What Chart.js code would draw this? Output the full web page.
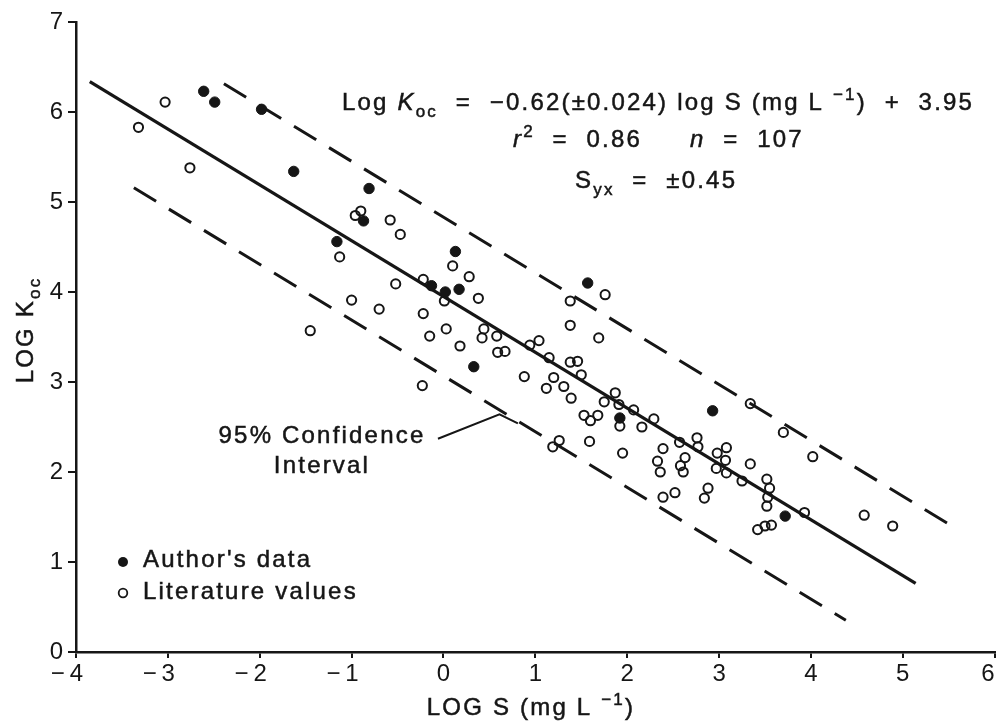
<!DOCTYPE html>
<html>
<head>
<meta charset="utf-8">
<title>LOG Koc vs LOG S</title>
<script src="https://cdn.jsdelivr.net/npm/chart.js@4.4.1/dist/chart.umd.min.js"></script>
<style>
  html, body { margin: 0; padding: 0; background: #fff; overflow: hidden; }
  #wrap { width: 1010px; height: 725px; }
</style>
</head>
<body>
<div id="wrap"><canvas id="koc" width="1010" height="725"></canvas></div>
<script>
'use strict';

// author's own measurements: log S (mg/L) against log Koc
const authorLogS = [-2.61, -2.49, -1.98, -1.63, -1.16, -0.81, -0.87, 0.13, -0.13, 0.02,
  0.17, 0.33, 1.57, 1.92, 2.93, 3.72];
const authorLogKoc = [6.23, 6.11, 6.03, 5.34, 4.56, 5.15, 4.79, 4.45, 4.07, 4.00,
  4.03, 3.17, 4.10, 2.60, 2.68, 1.51];

// values taken from the literature
const litLogS = [-3.32, -3.03, -2.76, -1.45, -1.13, -1.00, -0.96, -0.90, -0.58, -0.47,
  -0.70, -0.52, -0.22, -0.22, -0.23, -0.15, 0.01, 0.03, 0.10, 0.18,
  0.28, 0.38, 0.44, 0.42, 0.58, 0.59, 0.67, 0.88, 0.94, 1.04,
  1.12, 1.15, 1.20, 1.19, 1.26, 1.31, 1.38, 1.38, 1.38, 1.39,
  1.46, 1.50, 1.53, 1.59, 1.60, 1.68, 1.69, 1.76, 1.75, 1.87,
  1.92, 1.95, 2.07, 2.16, 2.29, 2.33, 2.36, 2.39, 2.39, 2.52,
  2.57, 2.63, 2.58, 2.61, 2.76, 2.77, 2.84, 2.88, 2.98, 3.08,
  3.07, 2.97, 3.08, 3.25, 3.34, 3.34, 3.42, 3.50, 3.57, 3.52,
  3.55, 3.53, 3.52, 3.70, 3.93, 4.02, 4.58, 4.89, 1.91];
const litLogKoc = [5.83, 6.11, 5.38, 3.57, 4.39, 3.91, 4.85, 4.90, 4.80, 4.64,
  3.81, 4.09, 4.14, 3.76, 2.96, 3.51, 3.90, 3.59, 4.29, 3.40,
  4.17, 3.93, 3.59, 3.49, 3.51, 3.33, 3.34, 3.06, 3.41, 3.46,
  2.93, 3.27, 3.05, 2.28, 2.35, 2.95, 3.90, 3.63, 3.22, 2.82,
  3.23, 3.08, 2.63, 2.34, 2.57, 2.63, 3.49, 3.97, 2.78, 2.88,
  2.51, 2.21, 2.69, 2.50, 2.59, 2.12, 2.00, 2.26, 1.72, 1.77,
  2.33, 2.16, 2.07, 2.00, 2.38, 2.28, 1.71, 1.82, 2.21, 2.27,
  2.13, 2.04, 1.99, 1.90, 2.76, 2.09, 1.36, 1.40, 1.41, 1.92,
  1.82, 1.72, 1.62, 2.44, 1.55, 2.17, 1.52, 1.40, 2.75];

// regression: log Koc = -0.62 log S + 3.95, Syx = 0.45
const fitSlope = -0.62;
const fitIntercept = 3.95;
const fitSyx = 0.45;
// x extent of the fitted line and of the two 95% limits
const fitRange = [-3.85, 5.14];
const upperRange = [-2.39, 5.50];
const lowerRange = [-3.37, 4.38];
// pointer from the "95% Confidence Interval" note to the lower limit
const leaderPath = [[-0.06, 2.37], [0.61, 2.64], [0.81, 2.54]];

const xTickValues = [-4, -3, -2, -1, 0, 1, 2, 3, 4, 5, 6];
const yTickValues = [0, 1, 2, 3, 4, 5, 6, 7];

const INK = '#161616';
const FONT = '"Liberation Sans", Arial, Helvetica, sans-serif';
const TRACK = 2.2;
const FS = 24;

const band = 1.96 * fitSyx;
function fitLine(range, shift) {
  return range.map(x => ({ x: x, y: fitIntercept + shift + fitSlope * x }));
}
function pairs(xs, ys) {
  return xs.map((x, i) => ({ x: x, y: ys[i] }));
}
function xLabel(v) {
  // keep the digit on the tick, let the minus hang to the left
  if (v < 0) return '\u2212\u2009' + Math.abs(v) + '\u2009\u2007';
  if (v === 6) return '6\u2007';   // last one sits at the right edge
  return String(v);
}

function partFont(size, style) {
  const small = style.includes('sub') || style.includes('sup');
  const it = style.includes('i') ? 'italic ' : '';
  return it + (small ? Math.round(size * 0.7) : size) + 'px ' + FONT;
}
function richWidth(ctx, parts, size) {
  let w = 0;
  for (const [t, s] of parts) {
    ctx.font = partFont(size, s);
    w += ctx.measureText(t).width;
  }
  return w;
}
function drawRich(ctx, x, y, parts, size, align) {
  ctx.save();
  ctx.letterSpacing = TRACK + 'px';
  ctx.fillStyle = INK;
  ctx.strokeStyle = INK;
  ctx.lineWidth = 0.5;
  ctx.textAlign = 'left';
  ctx.textBaseline = 'alphabetic';
  let cx = align === 'center' ? x - richWidth(ctx, parts, size) / 2 : x;
  for (const [t, s] of parts) {
    ctx.font = partFont(size, s);
    const dy = s.includes('sub') ? size * 0.3 : (s.includes('sup') ? -size * 0.42 : 0);
    ctx.fillText(t, cx, y + dy);
    ctx.strokeText(t, cx, y + dy);
    cx += ctx.measureText(t).width;
  }
  ctx.restore();
}

const notes = {
  id: 'notes',
  afterDraw(chart) {
    const ctx = chart.ctx;
    drawRich(ctx, 342, 110, [['Log ', ''], ['K', 'i'], ['oc', 'sub'],
      ['  =  \u22120.62(\u00b10.024) log S (mg L ', ''], ['\u22121', 'sup'], [')  +  3.95', '']], FS);
    drawRich(ctx, 513, 147, [['r', 'i'], ['2', 'sup'], ['  =  0.86', '']], FS);
    drawRich(ctx, 690, 147, [['n', 'i'], ['  =  107', '']], FS);
    drawRich(ctx, 575, 188, [['S', ''], ['yx', 'sub'], ['  =  \u00b10.45', '']], FS);

    drawRich(ctx, 322, 443, [['95% Confidence', '']], FS, 'center');
    drawRich(ctx, 322, 473, [['Interval', '']], FS, 'center');

    // key
    ctx.save();
    ctx.strokeStyle = INK;
    ctx.fillStyle = INK;
    ctx.lineWidth = 1.8;
    ctx.beginPath(); ctx.arc(123, 562, 5, 0, Math.PI * 2); ctx.fill();
    ctx.beginPath(); ctx.arc(123, 593, 4.3, 0, Math.PI * 2); ctx.stroke();
    ctx.restore();
    drawRich(ctx, 143, 567, [["Author's data", '']], FS);
    drawRich(ctx, 143, 599, [['Literature values', '']], FS);

    // axis titles
    drawRich(ctx, 531, 715, [['LOG S (mg L ', ''], ['\u22121', 'sup'], [')', '']], FS, 'center');
    ctx.save();
    ctx.translate(33, 330);
    ctx.rotate(-Math.PI / 2);
    drawRich(ctx, 0, 0, [['LOG K', ''], ['oc', 'sub']], FS, 'center');
    ctx.restore();
  }
};

const lineStyle = { showLine: true, pointRadius: 0, borderColor: INK, fill: false, tension: 0 };

new Chart(document.getElementById('koc'), {
  type: 'scatter',
  data: {
    datasets: [
      { label: "Author's data", data: pairs(authorLogS, authorLogKoc),
        pointRadius: 5.2, pointBackgroundColor: INK, pointBorderColor: INK, pointBorderWidth: 1 },
      { label: 'Literature values', data: pairs(litLogS, litLogKoc),
        pointRadius: 4.6, pointBackgroundColor: 'rgba(0,0,0,0)', pointBorderColor: INK, pointBorderWidth: 2 },
      Object.assign({ data: fitLine(fitRange, 0), borderWidth: 3.2 }, lineStyle),
      Object.assign({ data: fitLine(upperRange, band), borderWidth: 3, borderDash: [26, 15] }, lineStyle),
      Object.assign({ data: fitLine(lowerRange, -band), borderWidth: 3, borderDash: [26, 15] }, lineStyle),
      Object.assign({ data: leaderPath.map(p => ({ x: p[0], y: p[1] })), borderWidth: 2 }, lineStyle)
    ]
  },
  options: {
    responsive: false,
    animation: false,
    events: [],
    layout: { padding: { top: 22, right: 13, left: 0, bottom: 0 } },
    plugins: { legend: { display: false }, tooltip: { enabled: false } },
    scales: {
      x: {
        type: 'linear', min: -4, max: 6,
        afterFit(s) { s.height = 73; },
        afterBuildTicks(s) { s.ticks = xTickValues.map(v => ({ value: v })); },
        ticks: { callback: xLabel, font: { family: FONT, size: FS }, color: INK,
          padding: 2, maxRotation: 0, autoSkip: false },
        grid: { drawOnChartArea: false, drawTicks: true, tickLength: 6, color: INK, lineWidth: 2 },
        border: { display: true, color: INK, width: 2.5 }
      },
      y: {
        type: 'linear', min: 0, max: 7,
        afterFit(s) { s.width = 76; },
        afterBuildTicks(s) { s.ticks = yTickValues.map(v => ({ value: v })); },
        ticks: { font: { family: FONT, size: FS }, color: INK, padding: 5 },
        grid: { drawOnChartArea: false, drawTicks: true, tickLength: 8, color: INK, lineWidth: 2 },
        border: { display: true, color: INK, width: 2.5 }
      }
    }
  },
  plugins: [notes]
});
</script>
</body>
</html>
